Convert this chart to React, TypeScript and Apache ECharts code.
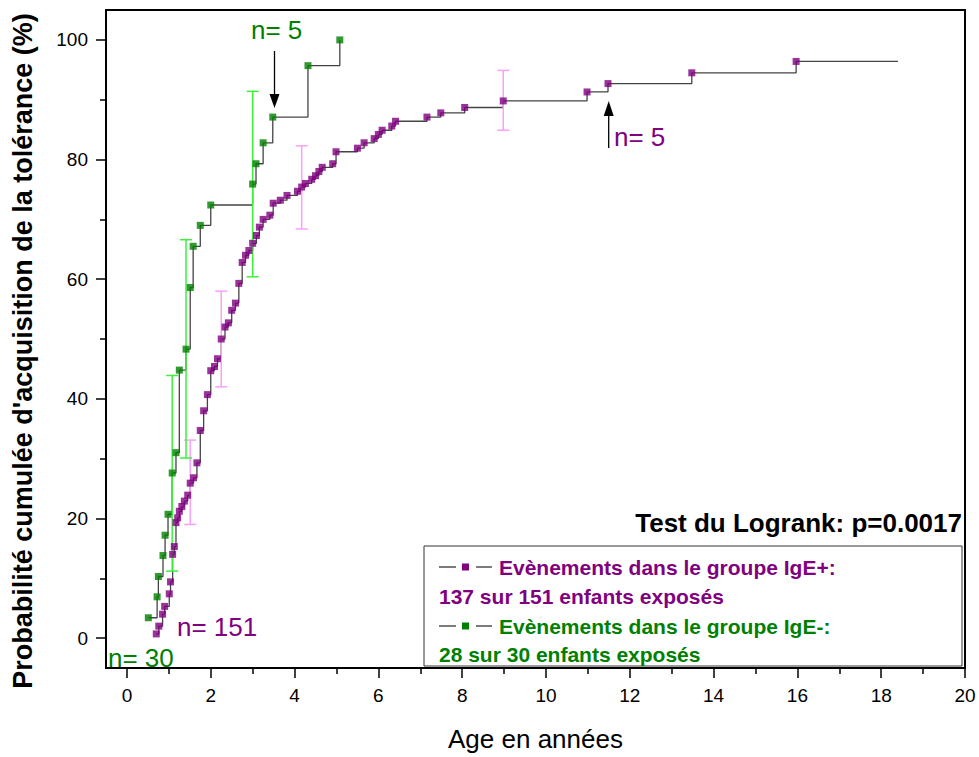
import React, { useEffect, useRef } from "react";
import * as echarts from "echarts";

// IgE+ group: [age (years), cumulative probability (%)]
const igePlus: [number, number][] = [
  [0.70, 0.7], [0.76, 2.0], [0.85, 4.0], [0.90, 5.3], [1.01, 7.4], [1.04, 9.4],
  [1.09, 14.0], [1.13, 15.3], [1.17, 19.3], [1.21, 20.1], [1.25, 21.2], [1.31, 22.0],
  [1.37, 22.9], [1.45, 23.9], [1.51, 25.9], [1.59, 26.8], [1.67, 29.3], [1.75, 34.7],
  [1.83, 38.0], [1.92, 40.7], [2.00, 44.7], [2.09, 45.4], [2.16, 46.7], [2.25, 50.0],
  [2.34, 52.0], [2.42, 52.7], [2.50, 54.8], [2.59, 56.0], [2.67, 59.3], [2.75, 62.8],
  [2.83, 64.0], [2.91, 64.8], [3.00, 66.0], [3.09, 67.3], [3.16, 68.7], [3.25, 70.0],
  [3.41, 70.7], [3.49, 72.7], [3.66, 73.2], [3.82, 74.0], [4.07, 74.7], [4.17, 75.4],
  [4.26, 76.0], [4.41, 76.7], [4.50, 77.3], [4.58, 78.0], [4.66, 78.7], [4.91, 79.3],
  [4.99, 81.3], [5.50, 81.9], [5.66, 82.8], [5.90, 83.5], [6.00, 84.2], [6.09, 84.9],
  [6.32, 85.6], [6.41, 86.4], [7.16, 87.1], [7.49, 87.8], [8.06, 88.7], [8.98, 89.8],
  [10.98, 91.3], [11.48, 92.7], [13.48, 94.5], [15.97, 96.4],
];
const igePlusEnd: [number, number] = [18.4, 96.4];

// IgE- group
const igeMinus: [number, number][] = [
  [0.51, 3.4], [0.72, 6.9], [0.75, 10.3], [0.86, 13.8], [0.91, 17.2], [0.98, 20.7],
  [1.08, 27.6], [1.17, 31.0], [1.25, 44.8], [1.41, 48.3], [1.51, 58.6], [1.58, 65.5],
  [1.75, 69.0], [2.00, 72.4], [3.00, 75.9], [3.08, 79.3], [3.25, 82.8], [3.48, 87.1],
  [4.32, 95.7], [5.08, 100.0],
];

// Error bars: [age, low, high]
const igePlusErrors: [number, number, number][] = [
  [1.51, 19.0, 33.1], [2.25, 42.0, 58.0], [4.17, 68.4, 82.3], [8.98, 84.9, 94.9],
];
const igeMinusErrors: [number, number, number][] = [
  [1.08, 11.2, 43.9], [1.41, 30.1, 66.6], [3.00, 60.4, 91.4],
];

const xMajorTicks = [0, 2, 4, 6, 8, 10, 12, 14, 16, 18, 20];
const xMinorTicks = [1, 3, 5, 7, 9, 11, 13, 15, 17, 19];
const yMajorTicks = [0, 20, 40, 60, 80, 100];
const yMinorTicks = [10, 30, 50, 70, 90];

const PURPLE = "#800080";
const GREEN = "#008000";
const PINK_BAR = "#f9a0f9";
const GREEN_BAR = "#3cf03c";
const FONT = "Liberation Sans, Arial, sans-serif";

function errorBarSeries(data: [number, number, number][], color: string) {
  return {
    type: "custom",
    z: 3,
    silent: true,
    data,
    encode: { x: 0, y: [1, 2] },
    renderItem: (_params: any, api: any) => {
      const x = api.value(0);
      const p1 = api.coord([x, api.value(1)]);
      const p2 = api.coord([x, api.value(2)]);
      const w = 6;
      const st = { stroke: color, lineWidth: 1.5 };
      return {
        type: "group",
        children: [
          { type: "line", shape: { x1: p1[0], y1: p1[1], x2: p2[0], y2: p2[1] }, style: st },
          { type: "line", shape: { x1: p1[0] - w, y1: p1[1], x2: p1[0] + w, y2: p1[1] }, style: st },
          { type: "line", shape: { x1: p2[0] - w, y1: p2[1], x2: p2[0] + w, y2: p2[1] }, style: st },
        ],
      };
    },
  };
}

export default function App() {
  const ref = useRef<HTMLDivElement>(null);
  useEffect(() => {
    if (!ref.current) return;
    const chart = echarts.init(ref.current, undefined, { renderer: "svg" });
    const tickStyle = { color: "#000", width: 1.5 };
    const option: any = {
      animation: false,
      backgroundColor: "#fff",
      grid: { left: 106, right: 14, top: 10, bottom: 83, show: true, borderColor: "#000", borderWidth: 2, backgroundColor: "transparent" },
      xAxis: [
        {
          type: "value", min: -0.5, max: 20, position: "bottom",
          axisLine: { show: true, onZero: false, lineStyle: { color: "#000", width: 2 } },
          axisTick: { show: true, length: 10, lineStyle: tickStyle, customValues: xMajorTicks },
          axisLabel: { customValues: xMajorTicks, fontSize: 19, color: "#000", fontFamily: FONT, margin: 18 },
          splitLine: { show: false },
          name: "Age en années", nameLocation: "middle", nameGap: 58,
          nameTextStyle: { fontSize: 26, color: "#000", fontFamily: FONT },
        },
        {
          type: "value", min: -0.5, max: 20, position: "bottom",
          axisLine: { show: false, onZero: false },
          axisTick: { show: true, length: 6, lineStyle: tickStyle, customValues: xMinorTicks },
          axisLabel: { show: false },
          splitLine: { show: false },
        },
      ],
      yAxis: [
        {
          type: "value", min: -5, max: 105, position: "left",
          axisLine: { show: true, onZero: false, lineStyle: { color: "#000", width: 2 } },
          axisTick: { show: true, length: 10, lineStyle: tickStyle, customValues: yMajorTicks },
          axisLabel: { customValues: yMajorTicks, fontSize: 19, color: "#000", fontFamily: FONT, margin: 18 },
          splitLine: { show: false },
          name: "Probabilité cumulée d'acquisition de la tolérance (%)",
          nameLocation: "middle", nameGap: 70, nameRotate: 90,
          nameTextStyle: { fontSize: 27, fontWeight: "bold", color: "#000", fontFamily: FONT, padding: [0, 24, 0, 0] },
        },
        {
          type: "value", min: -5, max: 105, position: "left",
          axisLine: { show: false, onZero: false },
          axisTick: { show: true, length: 6, lineStyle: tickStyle, customValues: yMinorTicks },
          axisLabel: { show: false },
          splitLine: { show: false },
        },
      ],
      series: [
        {
          type: "line", step: "end", data: [...igePlus, igePlusEnd], showSymbol: false, silent: true,
          lineStyle: { color: "#444", width: 1.3 }, z: 2,
        },
        {
          type: "line", step: "end", data: igeMinus, showSymbol: false, silent: true,
          lineStyle: { color: "#444", width: 1.3 }, z: 2,
        },
        errorBarSeries(igePlusErrors, PINK_BAR),
        errorBarSeries(igeMinusErrors, GREEN_BAR),
        { type: "scatter", data: igePlus, symbol: "rect", symbolSize: 7, itemStyle: { color: PURPLE }, z: 4, silent: true },
        { type: "scatter", data: igeMinus, symbol: "rect", symbolSize: 7, itemStyle: { color: GREEN }, z: 4, silent: true },
      ],
      graphic: [
        { type: "text", x: 962, y: 523, z: 10, style: { text: "Test du Logrank: p=0.0017", align: "right", verticalAlign: "middle", fontSize: 26, fontWeight: "bold", fontFamily: FONT, fill: "#000" } },
        { type: "rect", z: 9, shape: { x: 424, y: 546, width: 538, height: 120 }, style: { fill: "#fff", stroke: "#333", lineWidth: 1 } },
        { type: "line", z: 10, shape: { x1: 439, y1: 567, x2: 456, y2: 567 }, style: { stroke: "#333", lineWidth: 1.3 } },
        { type: "rect", z: 10, shape: { x: 462, y: 563.5, width: 7, height: 7 }, style: { fill: PURPLE } },
        { type: "line", z: 10, shape: { x1: 476, y1: 567, x2: 492, y2: 567 }, style: { stroke: "#333", lineWidth: 1.3 } },
        { type: "text", x: 499, y: 567, z: 10, style: { text: "Evènements dans le groupe IgE+:", verticalAlign: "middle", fontSize: 21, fontWeight: "bold", fontFamily: FONT, fill: PURPLE } },
        { type: "text", x: 439, y: 596, z: 10, style: { text: "137 sur 151 enfants exposés", verticalAlign: "middle", fontSize: 21, fontWeight: "bold", fontFamily: FONT, fill: PURPLE } },
        { type: "line", z: 10, shape: { x1: 439, y1: 626, x2: 456, y2: 626 }, style: { stroke: "#333", lineWidth: 1.3 } },
        { type: "rect", z: 10, shape: { x: 462, y: 622.5, width: 7, height: 7 }, style: { fill: GREEN } },
        { type: "line", z: 10, shape: { x1: 476, y1: 626, x2: 492, y2: 626 }, style: { stroke: "#333", lineWidth: 1.3 } },
        { type: "text", x: 499, y: 626, z: 10, style: { text: "Evènements dans le groupe IgE-:", verticalAlign: "middle", fontSize: 21, fontWeight: "bold", fontFamily: FONT, fill: GREEN } },
        { type: "text", x: 439, y: 654, z: 10, style: { text: "28 sur 30 enfants exposés", verticalAlign: "middle", fontSize: 21, fontWeight: "bold", fontFamily: FONT, fill: GREEN } },
        // annotations
        { type: "text", x: 251, y: 30, z: 10, style: { text: "n= 5", verticalAlign: "middle", fontSize: 26, fontFamily: FONT, fill: GREEN } },
        { type: "line", z: 10, shape: { x1: 274.5, y1: 51, x2: 274.5, y2: 98 }, style: { stroke: "#000", lineWidth: 1.3 } },
        { type: "polygon", z: 10, shape: { points: [[269.5, 94], [279.5, 94], [274.5, 108]] }, style: { fill: "#000" } },
        { type: "text", x: 614, y: 137, z: 10, style: { text: "n= 5", verticalAlign: "middle", fontSize: 26, fontFamily: FONT, fill: PURPLE } },
        { type: "line", z: 10, shape: { x1: 608.7, y1: 148, x2: 608.7, y2: 112 }, style: { stroke: "#000", lineWidth: 1.3 } },
        { type: "polygon", z: 10, shape: { points: [[603.7, 116], [613.7, 116], [608.7, 101]] }, style: { fill: "#000" } },
        { type: "text", x: 177, y: 627, z: 10, style: { text: "n= 151", verticalAlign: "middle", fontSize: 26, fontFamily: FONT, fill: PURPLE } },
        { type: "text", x: 108, y: 658, z: 10, style: { text: "n= 30", verticalAlign: "middle", fontSize: 26, fontFamily: FONT, fill: GREEN } },
      ],
    };
    chart.setOption(option);
    return () => chart.dispose();
  }, []);
  return <div ref={ref} style={{ position: "absolute", left: 0, top: 0, width: 979, height: 757 }} />;
}
